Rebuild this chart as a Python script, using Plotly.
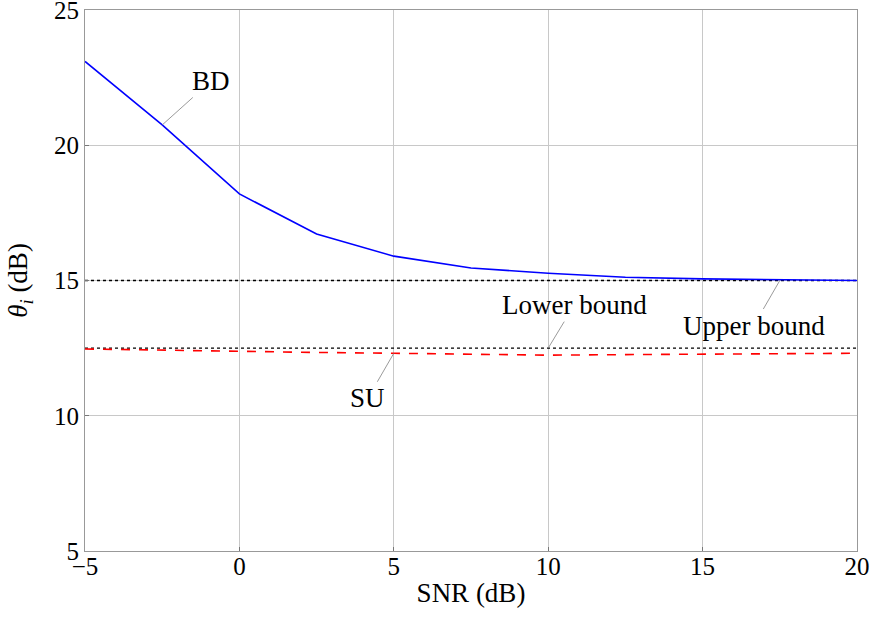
import plotly.graph_objects as go

snr = [-5, -2.5, 0, 2.5, 5, 7.5, 10, 12.5, 15, 17.5, 20]
bd = [23.1, 20.75, 18.2, 16.72, 15.9, 15.46, 15.27, 15.12, 15.06, 15.03, 15.0]
su = [12.47, 12.42, 12.37, 12.34, 12.31, 12.28, 12.24, 12.26, 12.27, 12.29, 12.31]
upper_bound = 15.0
lower_bound = 12.5
x_ticks = [-5, 0, 5, 10, 15, 20]
y_ticks = [5, 10, 15, 20, 25]

font = "Liberation Serif"
fs = 27
tfs = 25
fig = go.Figure()
fig.add_trace(go.Scatter(x=[snr[0], snr[-1]], y=[upper_bound, upper_bound], mode="lines",
                         line=dict(color="black", width=1.3, dash="dot"), showlegend=False))
fig.add_trace(go.Scatter(x=[snr[0], snr[-1]], y=[lower_bound, lower_bound], mode="lines",
                         line=dict(color="black", width=1.3, dash="dot"), showlegend=False))
fig.add_trace(go.Scatter(x=snr, y=bd, mode="lines", line=dict(color="#0000ff", width=1.6), showlegend=False))
fig.add_trace(go.Scatter(x=snr, y=su, mode="lines", line=dict(color="#ff0000", width=1.6, dash="dash"), showlegend=False))

ann = dict(showarrow=True, arrowhead=0, arrowwidth=0.8, arrowcolor="#808080", standoff=0,
           font=dict(family=font, size=fs, color="black"))
fig.add_annotation(x=-2.5, y=bd[1], text="BD", ax=49, ay=-44, **ann)
fig.add_annotation(x=10, y=lower_bound, text="Lower bound", ax=26, ay=-43, **ann)
fig.add_annotation(x=17.5, y=upper_bound, text="Upper bound", ax=-26, ay=45, **ann)
fig.add_annotation(x=5, y=su[4], text="SU", ax=-26, ay=45, **ann)

axis_common = dict(showline=True, linecolor="#999999", linewidth=1.2, mirror=True,
                   showgrid=True, gridcolor="#c8c8c8", gridwidth=1, zeroline=False,
                   ticks="inside", ticklen=4, tickcolor="#777777", automargin=False,
                   ticklabeloverflow="allow",
                   tickfont=dict(family=font, size=tfs, color="black"))
fig.update_xaxes(range=[-5, 20], tickvals=x_ticks, ticklabelstandoff=-7,
                 title=dict(text="SNR (dB)", font=dict(family=font, size=fs, color="black"), standoff=4),
                 **axis_common)
fig.update_yaxes(range=[5, 25], tickvals=y_ticks,
                 title=dict(text="<i>θ</i><sub><i>i</i></sub> (dB)", font=dict(family=font, size=fs, color="black"), standoff=18),
                 **axis_common)
fig.update_layout(width=872, height=618, margin=dict(l=85, r=15, t=10, b=67),
                  plot_bgcolor="white", paper_bgcolor="white")
fig.write_html("out.html", config={"displayModeBar": False},
               post_script="document.body.style.margin='0';")
